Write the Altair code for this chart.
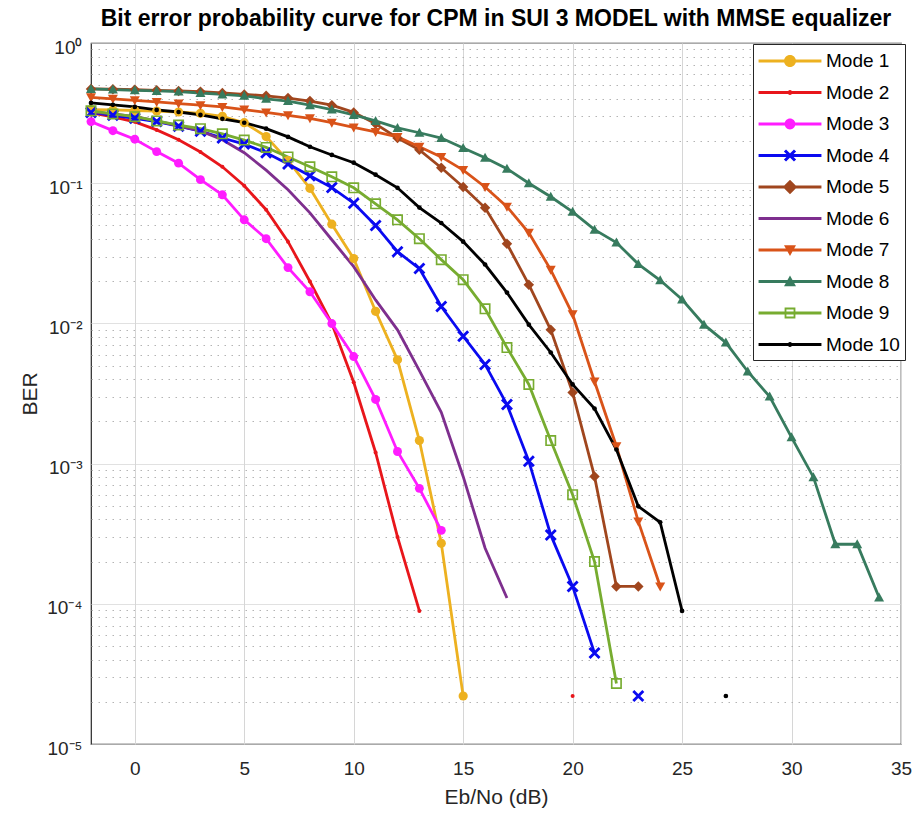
import json
import math
import altair as alt
import pandas as pd

# ---------------- data ----------------
MODES = ["Mode 1", "Mode 2", "Mode 3", "Mode 4", "Mode 5",
         "Mode 6", "Mode 7", "Mode 8", "Mode 9", "Mode 10"]
COLORS = ["#EDB120", "#E8161B", "#FF1CFF", "#0A0AF0", "#A0461E",
          "#7E2F8E", "#D95319", "#377B5E", "#77AC30", "#000000"]

X_FIRST = -2  # every series starts at Eb/No = -2 dB, step 1 dB
X_TICKS = [0, 5, 10, 15, 20, 25, 30, 35]
Y_EXP_LABELS = ["10⁰", "10⁻¹", "10⁻²", "10⁻³", "10⁻⁴", "10⁻⁵"]

MODE_1 = [0.335, 0.333, 0.33, 0.327, 0.322, 0.315, 0.30, 0.27, 0.215, 0.145,
          0.092, 0.051, 0.029, 0.0122, 0.0055, 0.00146, 2.7e-4, 2.2e-5]
MODE_2 = [0.317, 0.297, 0.274, 0.24, 0.204, 0.167, 0.131, 0.0959, 0.0647, 0.0383,
          0.0199, 0.00997, 0.0038, 0.0012, 3.0e-4, 8.9e-5,
          None, None, None, None, None, None, 2.2e-5]
MODE_3 = [0.275, 0.237, 0.206, 0.168, 0.139, 0.106, 0.0826, 0.0548, 0.0402, 0.025,
          0.0168, 0.00997, 0.0058, 0.00287, 0.00122, 6.66e-4, 3.34e-4]
MODE_4 = [0.32, 0.305, 0.29, 0.275, 0.255, 0.235, 0.21, 0.19, 0.165, 0.137,
          0.113, 0.093, 0.072, 0.05, 0.0325, 0.0246, 0.0132, 0.0081, 0.0051, 0.00264,
          0.00104, 3.1e-4, 1.33e-4, 4.45e-5, None, 2.2e-5]
MODE_5 = [0.47, 0.468, 0.465, 0.46, 0.455, 0.45, 0.44, 0.43, 0.42, 0.405,
          0.385, 0.36, 0.32, 0.265, 0.21, 0.173, 0.129, 0.094, 0.0668, 0.037,
          0.0189, 0.009, 0.00321, 8.1e-4, 1.33e-4, 1.33e-4]
MODE_6 = [0.322, 0.312, 0.298, 0.278, 0.256, 0.236, 0.204, 0.165, 0.124, 0.0897,
          0.0614, 0.0395, 0.0254, 0.0147, 0.009, 0.0046, 0.00232, 8.1e-4, 2.5e-4, 1.1e-4]
MODE_7 = [0.41, 0.40, 0.39, 0.38, 0.37, 0.36, 0.35, 0.335, 0.32, 0.305,
          0.29, 0.27, 0.25, 0.232, 0.214, 0.182, 0.154, 0.124, 0.094, 0.068,
          0.0443, 0.0241, 0.0116, 0.00385, 0.00133, 3.87e-4, 1.33e-4]
MODE_8 = [0.47, 0.465, 0.46, 0.455, 0.45, 0.44, 0.43, 0.42, 0.40, 0.385,
          0.36, 0.335, 0.307, 0.278, 0.248, 0.229, 0.21, 0.178, 0.152, 0.127,
          0.10, 0.08, 0.0625, 0.0466, 0.0377, 0.0265, 0.0203, 0.0148, 0.0098, 0.0073,
          0.00454, 0.00301, 0.00154, 8.0e-4, 2.66e-4, 2.66e-4, 1.11e-4]
MODE_9 = [0.328, 0.312, 0.298, 0.278, 0.26, 0.245, 0.225, 0.203, 0.18, 0.154,
          0.131, 0.111, 0.0927, 0.0713, 0.0548, 0.0402, 0.0285, 0.0205, 0.0127, 0.00672,
          0.00367, 0.00146, 6.0e-4, 2.0e-4, 2.7e-5]
MODE_10 = [0.374, 0.362, 0.35, 0.333, 0.322, 0.307, 0.288, 0.27, 0.245, 0.214,
           0.182, 0.159, 0.14, 0.115, 0.0927, 0.067, 0.052, 0.0383, 0.0263, 0.0166,
           0.0098, 0.0062, 0.00367, 0.00247, 0.00126, 4.96e-4, 3.81e-4, 8.9e-5,
           None, 2.2e-5]
SERIES = [MODE_1, MODE_2, MODE_3, MODE_4, MODE_5,
          MODE_6, MODE_7, MODE_8, MODE_9, MODE_10]

rows = []
for mode, vals in zip(MODES, SERIES):
    seg = 0
    for i, v in enumerate(vals):
        if v is None:
            seg += 1
            continue
        rows.append({"mode": mode, "x": X_FIRST + i, "ber": v, "key": f"{mode}|{seg}"})
df = pd.DataFrame(rows)

# ---------------- marker shapes ----------------
def rect(L, h):
    return f"M{-L},{-h}L{L},{-h}L{L},{h}L{-L},{h}Z"

def circle(r):
    return f"M{r},0A{r},{r} 0 1,1 {-r},0A{r},{r} 0 1,1 {r},0Z"

def xshape(s, a):
    p1 = f"M{-s+a},{-s-a}L{s+a},{s-a}L{s-a},{s+a}L{-s-a},{-s+a}Z"
    p2 = f"M{-s-a},{s-a}L{s-a},{-s-a}L{s+a},{-s+a}L{-s+a},{s+a}Z"
    return p1 + p2

def diamond(s):
    return f"M0,{-s}L{s},0L0,{s}L{-s},0Z"

def tri_up(s):
    return f"M0,{-s}L{s},{0.8*s}L{-s},{0.8*s}Z"

def tri_down(s):
    return f"M{-s},{-0.8*s}L{s},{-0.8*s}L0,{s}Z"

def hollow_square(s, t):
    outer = f"M{-s},{-s}L{s},{-s}L{s},{s}L{-s},{s}Z"
    inner = f"M{-t},{-t}L{-t},{t}L{t},{t}L{t},{-t}Z"
    return outer + inner

# plot markers: (shape, size)
PLOT_MARKERS = {
    "Mode 1": ("circle", 85),
    "Mode 2": ("circle", 16),
    "Mode 3": ("circle", 80),
    "Mode 4": (xshape(1, 0.2), 100),
    "Mode 5": ("diamond", 110),
    "Mode 7": (tri_down(1), 100),
    "Mode 8": (tri_up(1), 100),
    "Mode 9": (hollow_square(1, 0.7), 121),
    "Mode 10": ("circle", 22),
}

LINE = rect(2.62, 0.12)
LEGEND_PATHS = [
    LINE + circle(0.5),
    LINE + circle(0.2),
    LINE + circle(0.45),
    LINE + xshape(0.42, 0.09),
    LINE + diamond(0.6),
    LINE,
    LINE + tri_down(0.5),
    LINE + tri_up(0.5),
    LINE + hollow_square(0.45, 0.3),
    LINE + circle(0.2),
]

# ---------------- scales / axes ----------------
FONT = "Liberation Sans"
TEXT = "#262626"
Y_TICKS = [m * 10.0 ** e for e in range(-5, 0) for m in range(1, 10)] + [1.0]
MAJOR = "abs(log(datum.value)/LN10 - round(log(datum.value)/LN10)) < 0.001"
Y_LABEL_EXPR = (f"{MAJOR} ? {json.dumps(Y_EXP_LABELS, ensure_ascii=False)}"
                f"[-round(log(datum.value)/LN10)] : ''")

cscale = alt.Scale(domain=MODES, range=COLORS)
xenc = alt.X("x:Q", title="Eb/No (dB)",
             scale=alt.Scale(domain=[-2, 35], nice=False, zero=False),
             axis=alt.Axis(values=X_TICKS, ticks=False, domain=False,
                           labelFlush=False, labelFontSize=19, labelPadding=15,
                           labelColor=TEXT, labelFont=FONT,
                           titleFontSize=21, titleFontWeight="normal", titleColor=TEXT,
                           titleFont=FONT, titlePadding=8,
                           grid=True, gridColor="#d6d6d6", gridWidth=1))
yenc = alt.Y("ber:Q", title="BER",
             scale=alt.Scale(type="log", domain=[1e-5, 1], nice=False),
             axis=alt.Axis(values=Y_TICKS, labelExpr=Y_LABEL_EXPR, ticks=False,
                           domain=False, labelOverlap=False, labelFontSize=19,
                           labelPadding=9, labelColor=TEXT, labelFont=FONT,
                           labelBaseline="middle", labelOffset=4,
                           titleFontSize=21, titleFontWeight="normal", titleColor=TEXT,
                           titleFont=FONT, titlePadding=6,
                           grid=True, gridWidth=1,
                           gridColor={"condition": {"test": MAJOR, "value": "#d6d6d6"},
                                      "value": "#b4b4b4"},
                           gridDash={"condition": {"test": MAJOR, "value": [1, 0]},
                                     "value": [1.5, 5.5]}))

# ---------------- layers ----------------
LEG = alt.Legend(title=None, orient="none", legendX=662, legendY=1,
                 symbolSize=576, symbolStrokeWidth=0, symbolOffset=20,
                 labelOffset=24, labelFontSize=19, labelFont=FONT,
                 labelColor="black", strokeColor=TEXT, fillColor="white",
                 padding=5, rowPadding=9.5, cornerRadius=0)

# legend-only layer (no rows drawn) placed first so its legend settings win
legend_layer = alt.Chart().transform_filter("false").mark_point(
    filled=True, size=576, opacity=1, strokeWidth=0
).encode(
    x=xenc, y=yenc,
    color=alt.Color("mode:N", scale=cscale, legend=LEG),
    shape=alt.Shape("mode:N", scale=alt.Scale(domain=MODES, range=LEGEND_PATHS),
                    legend=LEG),
)

lines = alt.Chart().mark_line(strokeWidth=2.8).encode(
    x=xenc, y=yenc,
    color=alt.Color("mode:N", scale=cscale, legend=None),
    detail="key:N",
)

point_layers = []
for mode in MODES:
    if mode not in PLOT_MARKERS:
        continue
    shape, size = PLOT_MARKERS[mode]
    point_layers.append(
        alt.Chart().transform_filter(alt.datum.mode == mode)
        .mark_point(shape=shape, size=size, filled=True, opacity=1, strokeWidth=0)
        .encode(x=xenc, y=yenc,
                color=alt.Color("mode:N", scale=cscale, legend=None))
    )

chart = alt.layer(legend_layer, lines, *point_layers, data=df).properties(
    width=810, height=701,
    title=alt.TitleParams(
        "Bit error probability curve for CPM in SUI 3 MODEL with MMSE equalizer",
        fontSize=23, fontWeight="bold", font=FONT, color="black",
        anchor="middle", frame="group", offset=7),
    padding={"left": 91, "top": 43, "right": 15, "bottom": 80},
    autosize=alt.AutoSizeParams(type="none"),
    background="white",
).configure(font=FONT).configure_view(stroke=TEXT, strokeWidth=1.2)

chart.save("out.html", embed_options={"renderer": "svg", "actions": False})
